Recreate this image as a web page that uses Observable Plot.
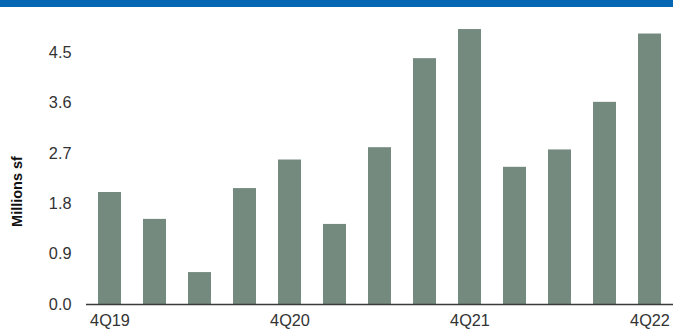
<!DOCTYPE html>
<html>
<head>
<meta charset="utf-8">
<script src="https://cdn.jsdelivr.net/npm/d3@7"></script>
<script src="https://cdn.jsdelivr.net/npm/@observablehq/plot@0.6"></script>
<style>
  html, body { margin: 0; padding: 0; background: #fff; }
  #wrap { position: relative; width: 673px; height: 331px; overflow: hidden; }
  #band { position: absolute; left: 0; top: 0; width: 673px; height: 7px; background: #0668b3; }
  #chart svg { display: block; }
</style>
</head>
<body>
<div id="wrap">
  <div id="chart"></div>
  <div id="band"></div>
</div>
<script>
// Quarterly volume, millions of square feet
const quarters = ["4Q19", "1Q20", "2Q20", "3Q20", "4Q20", "1Q21", "2Q21", "3Q21", "4Q21", "1Q22", "2Q22", "3Q22", "4Q22"];
const volumes = [2.0, 1.52, 0.57, 2.07, 2.58, 1.43, 2.80, 4.39, 4.91, 2.45, 2.76, 3.61, 4.83];
const xTickLabels = ["4Q19", "4Q20", "4Q21", "4Q22"];
const yTickValues = [0, 0.9, 1.8, 2.7, 3.6, 4.5];
const yTitle = "Millions sf";

const rows = quarters.map((q, i) => ({quarter: q, value: volumes[i]}));

const chart = Plot.plot({
  width: 673,
  height: 331,
  marginTop: 24,
  marginBottom: 27,
  marginLeft: 86,
  marginRight: 0,
  style: {fontFamily: "'Liberation Sans', Arial, sans-serif", fontSize: "16.3px", color: "#333"},
  x: {domain: quarters, paddingInner: 0.5, paddingOuter: 0.25, label: null},
  y: {domain: [0, 5], label: null},
  marks: [
    Plot.barY(rows, {x: "quarter", y: "value", fill: "#758a7f"}),
    Plot.ruleY([0], {stroke: "#3a3a3a", strokeWidth: 1.5}),
    Plot.axisY({ticks: yTickValues, tickFormat: d3.format(".1f"), tickSize: 0, tickPadding: 15, label: null, fill: "#333", style: {letterSpacing: "1.1px"}}),
    Plot.axisX({ticks: xTickLabels, tickSize: 0, tickPadding: 10, label: null, fill: "#333", style: {letterSpacing: "1.1px"}}),
    // rotated axis title, centred a little below the frame's midpoint
    Plot.text([yTitle], {frameAnchor: "left", textAnchor: "middle", text: d => d, rotate: -90, dx: -69, dy: 27, fontWeight: "bold", fontSize: 14.5, fill: "#111"})
  ]
});
document.getElementById("chart").appendChild(chart);
</script>
</body>
</html>
